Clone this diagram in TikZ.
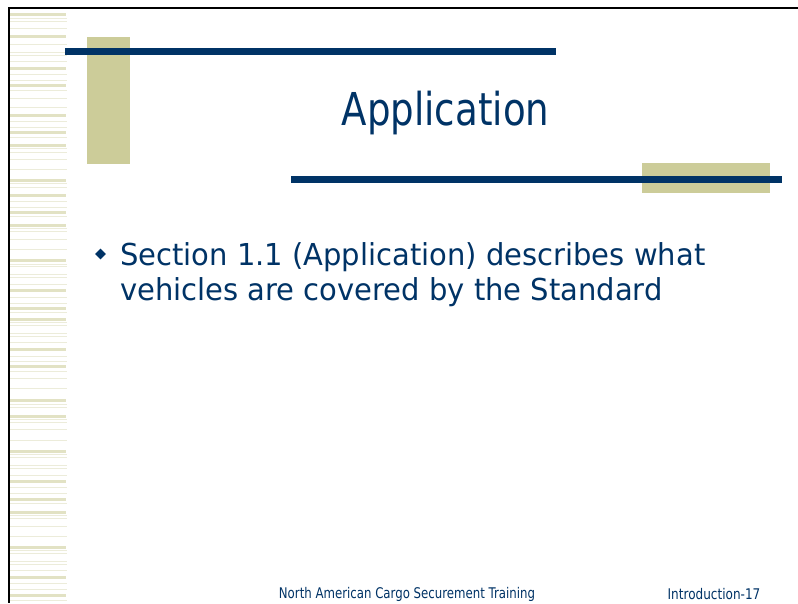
\documentclass[tikz,border=0pt]{standalone}
\usepackage{fontspec}
\usetikzlibrary{shapes.geometric}
\setmainfont{DejaVu Sans}[FakeStretch=0.82]
\newfontfamily\bodyfont{DejaVu Sans}[FakeStretch=0.96]
\newfontfamily\footfont{DejaVu Sans}[FakeStretch=0.80]
\definecolor{navy}{RGB}{0,51,102}
\definecolor{khaki}{RGB}{204,204,153}
\definecolor{stripeA}{RGB}{226,226,196}
\definecolor{stripeB}{RGB}{236,236,218}
\tikzset{
  bar/.style={fill=navy},
  block/.style={fill=khaki},
  txt/.style={inner sep=0pt, text=navy},
}
\begin{document}
\begin{tikzpicture}[x=1pt,y=-1pt]
\useasboundingbox (0,0) rectangle (798,603);
\fill[white] (0,0) rectangle (798,603);
% left stripes
\foreach \y in {13,35,67,84,114,131,144,179,194,211,224,259,289,307,318,348,365,399,415,450,480,498,511,546,576,594}
  \fill[stripeA] (10,\y) rectangle (66,\y+2.7);
\foreach \y in {18,21,28,44,52,55,61,74,80,90,98,107,121,127,137,148,152,159,169,183,187,201,207,216,228,231,239,249,264,266,274,277,284,297,303,312,322,325,333,336,342,356,361,371,378,388,404,407,419,422,429,440,454,457,465,468,475,487,493,503,515,518,526,536,550,553,561,564,570,583,589,600}
  \fill[stripeB] (10,\y) rectangle (67,\y+1.2);
% borders
\fill[black] (8,6.7) rectangle (798,8.7);
\fill[black] (8,6.7) rectangle (10,603);
% decorations
\fill[block] (87,37) rectangle (130,164);
\fill[bar] (65,48) rectangle (556,55);
\fill[block] (642,163) rectangle (770,193);
\fill[bar] (291,176) rectangle (782,183);
% texts
\node[txt, anchor=base, font=\fontsize{45.3}{54}\selectfont] (title) at (445.5,125.7) {Application};
\node[fill=navy, diamond, inner sep=0pt, minimum size=11pt] (bullet) at (100.5,254) {};
\node[txt, anchor=base west, font=\bodyfont\fontsize{30.2}{36}\selectfont] (line1) at (120,265) {Section 1.1 (Application) describes what};
\node[txt, anchor=base west, font=\bodyfont\fontsize{30.2}{36}\selectfont] (line2) at (120,300.7) {vehicles are covered by the Standard};
\node[txt, anchor=base, font=\footfont\fontsize{14.7}{17}\selectfont] (foot) at (407,598) {North American Cargo Securement Training};
\node[txt, anchor=base, font=\fontsize{14.7}{17}\selectfont] (page) at (714,599) {Introduction-17};
\end{tikzpicture}
\end{document}
